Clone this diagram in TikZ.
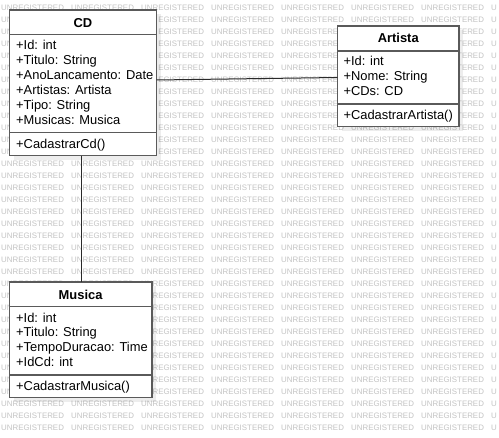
\documentclass[tikz,border=0pt]{standalone}
\usepackage{fontspec}
\setmainfont{Liberation Sans}
\definecolor{wmgray}{HTML}{C4C4C4}
\definecolor{boxline}{HTML}{5A5A5A}
\definecolor{connline}{HTML}{2A2A2A}
\tikzset{
  umlbox/.style={draw=boxline, line width=1.6pt, fill=white, rectangle, anchor=north west, outer sep=0pt, inner sep=0pt},
  shadowbox/.style={fill=black, fill opacity=0.07, draw=none},
  sepline/.style={draw=boxline, line width=1.6pt},
  conn/.style={draw=connline, line width=1pt},
  attr/.style={anchor=base west, inner sep=0pt, font=\fontsize{12.9}{15}\selectfont},
  ttl/.style={anchor=base, inner sep=0pt, font=\fontsize{12.9}{15}\selectfont\bfseries},
  wm/.style={anchor=base west, inner sep=0pt, text=wmgray, font=\fontsize{7.9}{9}\selectfont}
}
\begin{document}
\begin{tikzpicture}[x=1pt,y=-1pt]
\useasboundingbox[fill=white] (0,0) rectangle (499,438);
% watermark: only the parts that show beside the boxes
\foreach \k in {0,...,35}{
  \foreach \j in {0,...,7}{
    \pgfmathsetmacro\wx{1+70*\j}
    \pgfmathsetmacro\wy{10.8+12*\k}
    \def\wtext{UNREGISTERED}\def\wdx{0}
    \ifnum\j=7 \def\wtext{U}\fi
    \pgfmathtruncatemacro\incd{(\k>=1)&&(\k<=12)}
    \pgfmathtruncatemacro\inart{(\k>=2)&&(\k<=9)}
    \pgfmathtruncatemacro\inmus{(\k>=24)&&(\k<=32)}
    \ifnum\incd=1
      \ifcase\j \def\wtext{UN}\or \def\wtext{}\or \def\wtext{EGISTERED}\def\wdx{17.11}\fi
    \fi
    \ifnum\inart=1
      \ifnum\j=4 \def\wtext{UNREGISTERE}\fi
      \ifnum\j=5 \def\wtext{}\fi
      \ifnum\j=6 \def\wtext{TERED}\def\wdx{35.99}\fi
    \fi
    \ifnum\inmus=1
      \ifcase\j \def\wtext{UN}\or \def\wtext{}\or \def\wtext{REGISTERED}\def\wdx{11.41}\fi
    \fi
    \ifx\wtext\empty\else
      \node[wm] (wm-\k-\j) at (\wx+\wdx,\wy) {\wtext};
    \fi
  }
}
% shadows
\fill[shadowbox] (13.5,14) rectangle (160.5,159.7);
\fill[shadowbox] (341.5,30) rectangle (463,130.7);
\fill[shadowbox] (13.5,286.3) rectangle (155.7,401.7);
% boxes
\node[umlbox, minimum width=147pt, minimum height=145.7pt] (cd) at (9.5,10) {};
\node[umlbox, minimum width=121.5pt, minimum height=100.7pt] (art) at (337.5,26) {};
\node[umlbox, minimum width=142.2pt, minimum height=115.4pt] (mus) at (9.5,282.3) {};
% connectors
\draw[conn] ([yshift=2.85pt]cd.east) -- ([yshift=-1.15pt]art.west);
\draw[conn] ([xshift=-1.3pt]cd.south) -- ([xshift=1.1pt]mus.north);
% CD
\draw[sepline] (cd.west |- 0,34.5) -- (cd.east |- 0,34.5);
\draw[sepline] (cd.west |- 0,132.7) -- (cd.east |- 0,132.7);
\node[ttl] (cdT) at (83,27.3) {CD};
\node[attr] (cd1) at (16,50) {+Id: int};
\node[attr] (cd2) at (16,65) {+Titulo: String};
\node[attr] (cd3) at (16,80) {+AnoLancamento: Date};
\node[attr] (cd4) at (16,95) {+Artistas: Artista};
\node[attr] (cd5) at (16,110) {+Tipo: String};
\node[attr] (cd6) at (16,125) {+Musicas: Musica};
\node[attr] (cdM) at (16,149) {+CadastrarCd()};
% Artista
\draw[sepline] (art.west |- 0,51) -- (art.east |- 0,51);
\draw[sepline] (art.west |- 0,104) -- (art.east |- 0,104);
\node[ttl] (artT) at (398.25,42.7) {Artista};
\node[attr] (art1) at (343.3,66) {+Id: int};
\node[attr] (art2) at (343.3,81) {+Nome: String};
\node[attr] (art3) at (343.3,95.5) {+CDs: CD};
\node[attr] (artM) at (343.3,119.6) {+CadastrarArtista()};
% Musica
\draw[sepline] (mus.west |- 0,306.7) -- (mus.east |- 0,306.7);
\draw[sepline] (mus.west |- 0,375) -- (mus.east |- 0,375);
\node[ttl] (musT) at (80.6,299.3) {Musica};
\node[attr] (mus1) at (16,322.3) {+Id: int};
\node[attr] (mus2) at (16,337) {+Titulo: String};
\node[attr] (mus3) at (16,352) {+TempoDuracao: Time};
\node[attr] (mus4) at (16,367) {+IdCd: int};
\node[attr] (musM) at (16,390.3) {+CadastrarMusica()};
\end{tikzpicture}
\end{document}
